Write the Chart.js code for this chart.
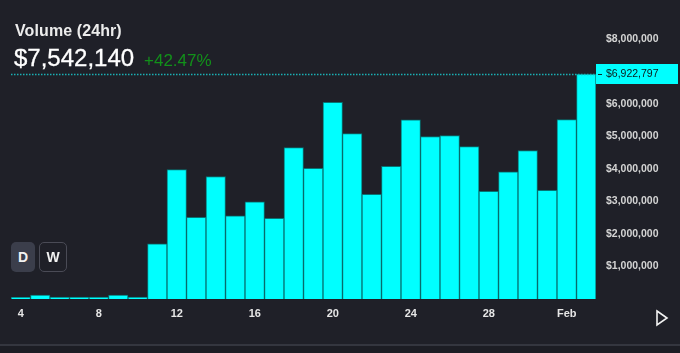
<!DOCTYPE html>
<html>
<head>
<meta charset="utf-8">
<script src="https://cdn.jsdelivr.net/npm/chart.js@4/dist/chart.umd.min.js"></script>
<style>
  html, body { margin: 0; padding: 0; background: #1f2028; }
  #wrap { position: relative; width: 680px; height: 353px; overflow: hidden; background: #1f2028; font-family: "Liberation Sans", Arial, sans-serif; }
  #c { position: absolute; left: 0; top: 0; }
  .title { position: absolute; left: 15px; top: 22px; color: #ececec; font-size: 16px; font-weight: bold; letter-spacing: 0.1px; }
  .price { position: absolute; left: 14px; top: 44px; color: #ffffff; font-size: 24px; -webkit-text-stroke: 0.3px #ffffff; }
  .chg { position: absolute; left: 144px; top: 51px; color: #12901a; font-size: 17px; }
  .btn { position: absolute; top: 242px; height: 30px; box-sizing: border-box; border-radius: 5px; color: #f2f2f2; font-weight: bold; font-size: 14px; display: flex; align-items: center; justify-content: center; }
  #bD { left: 11px; width: 24px; background: #3b3e4b; }
  #bW { left: 39px; width: 28px; border: 1px solid #4a4b56; }
  #play { position: absolute; left: 654px; top: 309px; }
  #sep { position: absolute; left: 0; top: 344px; width: 680px; height: 2px; background: #34363f; }
  #foot { position: absolute; left: 0; top: 346px; width: 680px; height: 7px; background: #1c1d24; }
</style>
</head>
<body>
<div id="wrap">
  <canvas id="c" width="680" height="353"></canvas>
  <div class="title">Volume (24hr)</div>
  <div class="price">$7,542,140</div>
  <div class="chg">+42.47%</div>
  <div class="btn" id="bD">D</div>
  <div class="btn" id="bW">W</div>
  <svg id="play" width="16" height="18" viewBox="0 0 16 18"><path d="M3 2 L13 9 L3 16 Z" fill="none" stroke="#f2f2f2" stroke-width="1.6" stroke-linejoin="miter"/></svg>
  <div id="sep"></div>
  <div id="foot"></div>
</div>
<script>
// Days from Jan 4 to Feb 2
const categories = ['4','5','6','7','8','9','10','11','12','13','14','15','16','17','18','19','20','21','22','23','24','25','26','27','28','29','30','31','Feb','2'];
const volumeUSD = [50000, 120000, 60000, 60000, 60000, 120000, 60000, 1700000, 3980000, 2510000,
                   3770000, 2560000, 2990000, 2480000, 4660000, 4020000, 6050000, 5090000, 3220000, 4080000,
                   5510000, 5000000, 5030000, 4690000, 3310000, 3910000, 4570000, 3340000, 5520000, 6922797];
const xTickLabels = ['4','8','12','16','20','24','28','Feb'];
const yTickValues = [1000000, 2000000, 3000000, 4000000, 5000000, 6000000, 8000000];
const yMin = 0, yMax = 8000000, yStep = 1000000;
const currentValue = volumeUSD[volumeUSD.length - 1];

const fmt = v => '$' + Math.round(v).toLocaleString('en-US');

const lastLine = {
  id: 'lastLine',
  afterDatasetsDraw(chart) {
    const ctx = chart.ctx, ca = chart.chartArea, y = chart.scales.y.getPixelForValue(currentValue);
    ctx.save();
    ctx.strokeStyle = '#1ab0b4';
    ctx.lineWidth = 1.5;
    ctx.setLineDash([1.5, 1.5]);
    ctx.beginPath();
    ctx.moveTo(ca.left, Math.round(y) + 0.5);
    ctx.lineTo(ca.right, Math.round(y) + 0.5);
    ctx.stroke();
    ctx.restore();
  },
  afterDraw(chart) {
    const ctx = chart.ctx, ca = chart.chartArea, y = Math.round(chart.scales.y.getPixelForValue(currentValue));
    ctx.save();
    ctx.fillStyle = '#00ffff';
    ctx.fillRect(ca.right, y - 10, 82, 20);
    ctx.fillStyle = '#0a2a2a';
    ctx.fillRect(ca.right + 2, y, 4, 1);
    ctx.fillStyle = '#0d1a1a';
    ctx.font = '10.5px "Liberation Sans", Arial, sans-serif';
    ctx.textBaseline = 'middle';
    ctx.textAlign = 'left';
    ctx.fillText(fmt(currentValue), ca.right + 10, y + 0.5);
    ctx.restore();
  }
};

new Chart(document.getElementById('c'), {
  type: 'bar',
  data: {
    labels: categories,
    datasets: [{
      data: volumeUSD,
      backgroundColor: '#00ffff',
      borderColor: '#067474',
      borderWidth: 1,
      barPercentage: 1,
      categoryPercentage: 1
    }]
  },
  options: {
    responsive: false,
    animation: false,
    devicePixelRatio: 1,
    layout: { padding: { left: 11, top: 39, right: 0, bottom: 0 } },
    plugins: { legend: { display: false }, tooltip: { enabled: false } },
    scales: {
      x: {
        grid: { display: false, drawTicks: false },
        border: { display: false },
        ticks: {
          autoSkip: false, maxRotation: 0, padding: 8,
          color: '#e6e6e6',
          font: { family: '"Liberation Sans", Arial, sans-serif', size: 11, weight: 'bold' },
          callback: function(v, i) { const l = categories[i]; return xTickLabels.includes(l) ? l : ''; }
        },
        afterFit: s => { s.height = 54; }
      },
      y: {
        position: 'right',
        min: yMin, max: yMax,
        grid: { display: false, drawTicks: false },
        border: { display: false },
        ticks: {
          stepSize: yStep, padding: 10,
          color: '#d4d4d4',
          font: { family: '"Liberation Sans", Arial, sans-serif', size: 10.5, weight: 'bold' },
          callback: v => yTickValues.includes(v) ? fmt(v) : ''
        },
        afterFit: s => { s.width = 84; }
      }
    }
  },
  plugins: [lastLine]
});
</script>
</body>
</html>
